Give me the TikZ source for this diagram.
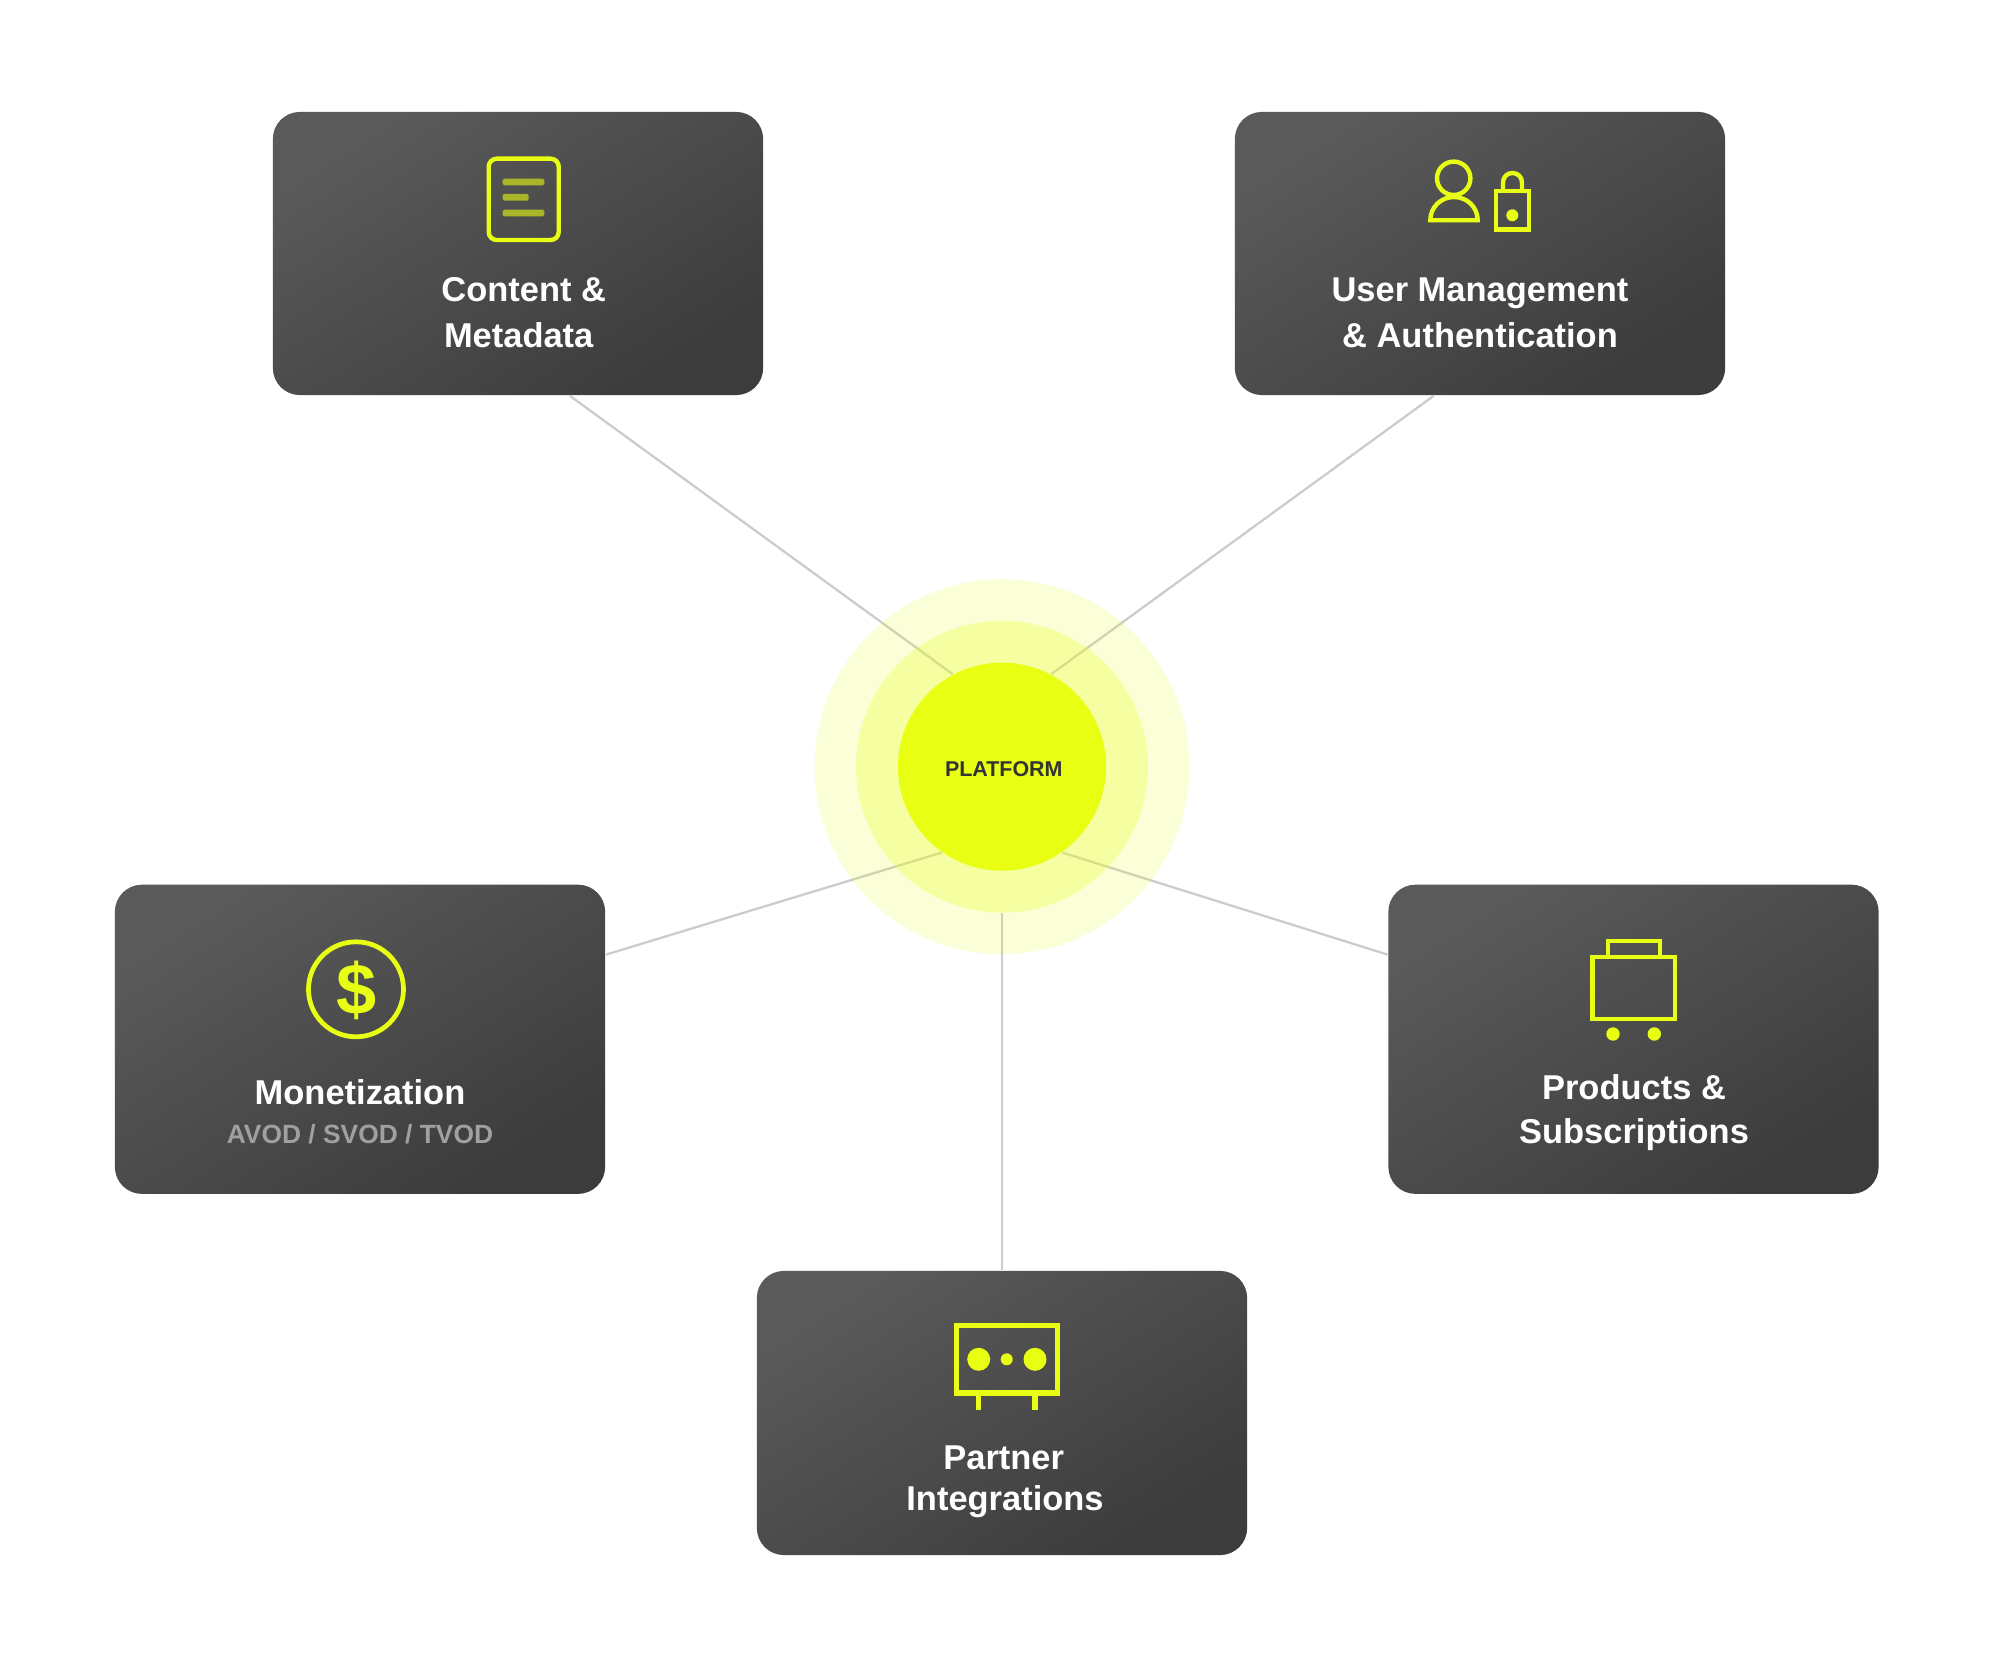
\documentclass[tikz,border=0pt]{standalone}
\usepackage{fontspec}
\setmainfont{Liberation Sans}
\usepackage{tikz}
\usetikzlibrary{shadings}

\definecolor{limeicon}{HTML}{E8FF14}
\definecolor{limebar}{HTML}{A9B62A}
\definecolor{cardtop}{HTML}{5A5A5A}
\definecolor{cardbot}{HTML}{3C3C3C}
\definecolor{linkgray}{HTML}{CCCCCC}
\definecolor{subgray}{HTML}{A0A0A0}
\definecolor{hubtext}{HTML}{333333}

\tikzset{
	card/.style={rectangle, rounded corners=0.27cm, inner sep=0pt, minimum width=4.9cm, top color=cardtop, bottom color=cardbot, shading angle=32},
	ring/.style={circle, inner sep=0pt, fill=limeicon},
	link/.style={draw=linkgray, line width=0.65pt},
	cardtitle/.style={anchor=base, inner sep=0pt, text=white, font=\fontsize{9.8pt}{11pt}\selectfont\bfseries},
	cardsub/.style={anchor=base, inner sep=0pt, text=subgray, font=\fontsize{7.5pt}{9pt}\selectfont\bfseries},
	icon/.style={draw=limeicon, line width=1.25pt},
	icondot/.style={fill=limeicon}
}

\begin{document}
\begin{tikzpicture}[x=0.01cm, y=-0.01cm]
	\useasboundingbox[fill=white] (0,0) rectangle (1990,1667);

	\node[card, minimum height=2.83cm] (content) at (518,253.5) {};
	\node[card, minimum height=2.83cm] (users) at (1480,253.5) {};
	\node[card, minimum height=3.09cm] (money) at (360,1039.3) {};
	\node[card, minimum height=3.09cm] (products) at (1633.5,1039.3) {};
	\node[card, minimum height=2.84cm] (partners) at (1002,1413) {};

	\node[ring, minimum size=3.75cm, opacity=0] (ringout) at (1002,766.7) {};
	\node[ring, minimum size=2.92cm, opacity=0] (ringmid) at (1002,766.7) {};
	\node[ring, minimum size=2.08cm, opacity=0] (hubedge) at (1002,766.7) {};

	\draw[link] (content.-70.7) -- (hubedge.118.5);
	\draw[link] (users.-108.5) -- (hubedge.62.5);
	\draw[link] (money.19.15) -- (hubedge.235);
	\draw[link] (products.161.03) -- (hubedge.305);
	\draw[link] (partners.north) -- (ringmid.south);

	\fill[limeicon, opacity=0.166] (ringout.center) circle (187.5);
	\fill[limeicon, opacity=0.27] (ringmid.center) circle (146);
	\node[ring, minimum size=2.08cm] (hub) at (1002,766.7) {};
	\node[anchor=base, inner sep=0pt, text=hubtext, font=\fontsize{6.1pt}{7pt}\selectfont\bfseries] (hublabel) at (1003.8,776.7) {PLATFORM};

	\draw[icon, rounded corners=0.08cm] (488.7,158.7) rectangle (558.7,240);
	\fill[limebar, rounded corners=0.015cm] (502.7,178.7) rectangle (544.3,185.3);
	\fill[limebar, rounded corners=0.015cm] (502.7,194) rectangle (528.7,200.6);
	\fill[limebar, rounded corners=0.015cm] (502.7,209.7) rectangle (544.3,216.3);
	\node[cardtitle] (contenttop) at (523.8,302) {Content \&};
	\node[cardtitle] (contentbot) at (518.7,348) {Metadata};

	\draw[icon] (1453.7,178.3) circle (16.7);
	\draw[icon] (1430.3,220.3) .. controls (1430.3,207.2) and (1441,197) .. (1454,197) .. controls (1467,197) and (1477.7,207.2) .. (1477.7,220.3) -- cycle;
	\draw[icon] (1496,191.3) rectangle (1529,229.7);
	\draw[icon] (1503,191.3) -- (1503,182.5) .. controls (1503,177) and (1507.2,173) .. (1512.5,173) .. controls (1517.8,173) and (1522,177) .. (1522,182.5) -- (1522,191.3);
	\fill[icondot] (1512.3,215.3) circle (6);
	\node[cardtitle] (userstop) at (1480,302) {User Management};
	\node[cardtitle] (usersbot) at (1480,348) {\& Authentication};

	\draw[icon, line width=1.35pt] (356,989.3) circle (47.5);
	\node[inner sep=0pt, text=limeicon, font=\fontsize{20.5pt}{22pt}\selectfont\bfseries] (dollar) at (357,990.5) {\$};
	\node[cardtitle] (moneytop) at (360,1104) {Monetization};
	\node[cardsub] (moneysub) at (360,1143) {AVOD / SVOD / TVOD};

	\draw[icon] (1592.3,956.7) rectangle (1675,1018.7);
	\draw[icon] (1608,956.7) -- (1608,941) -- (1659.7,941) -- (1659.7,956.7);
	\fill[icondot] (1613,1034) circle (6.7);
	\fill[icondot] (1654.3,1034) circle (6.7);
	\node[cardtitle] (productstop) at (1634,1099) {Products \&};
	\node[cardtitle] (productsbot) at (1634,1143) {Subscriptions};

	\draw[icon, line width=1.45pt] (956.5,1325.5) rectangle (1057.5,1393);
	\fill[icondot] (978.7,1359.3) circle (11.5);
	\fill[icondot] (1006.7,1359.3) circle (6);
	\fill[icondot] (1035,1359.3) circle (11.5);
	\draw[icon, line width=1.5pt] (978.7,1393) -- (978.7,1410);
	\draw[icon, line width=1.5pt] (1035,1393) -- (1035,1410);
	\node[cardtitle] (partnerstop) at (1003.7,1469) {Partner};
	\node[cardtitle] (partnersbot) at (1005,1510) {Integrations};
\end{tikzpicture}
\end{document}
